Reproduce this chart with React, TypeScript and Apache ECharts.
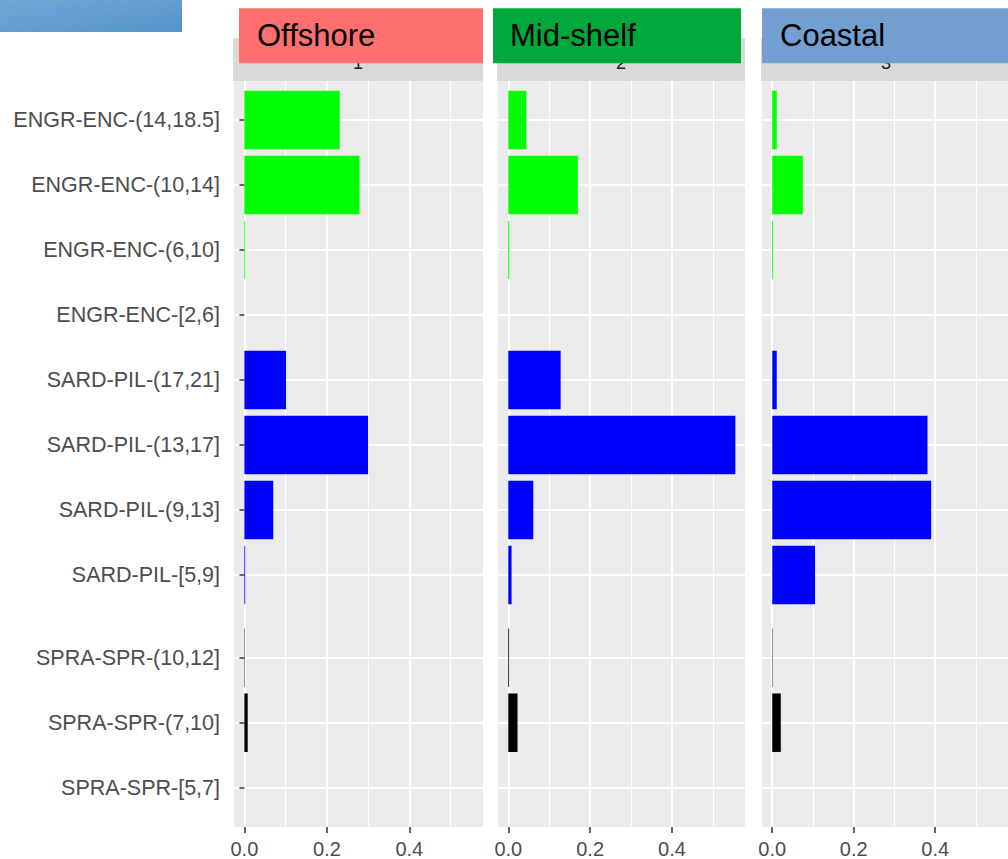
import { useEffect, useRef } from "react";
import * as echarts from "echarts";

// ---- data ----
const CATEGORIES = [
  "ENGR-ENC-(14,18.5]",
  "ENGR-ENC-(10,14]",
  "ENGR-ENC-(6,10]",
  "ENGR-ENC-[2,6]",
  "SARD-PIL-(17,21]",
  "SARD-PIL-(13,17]",
  "SARD-PIL-(9,13]",
  "SARD-PIL-[5,9]",
  "SPRA-SPR-(10,12]",
  "SPRA-SPR-(7,10]",
  "SPRA-SPR-[5,7]",
];
const OFFSHORE = [0.231, 0.279, 0.002, 0, 0.101, 0.3, 0.07, 0.002, 0.001, 0.008, 0];
const MID_SHELF = [0.044, 0.17, 0.0025, 0, 0.128, 0.555, 0.061, 0.008, 0.002, 0.0225, 0];
const COASTAL = [0.011, 0.075, 0.002, 0, 0.011, 0.381, 0.39, 0.105, 0.001, 0.021, 0];
const PANEL_TITLES = ["Offshore", "Mid-shelf", "Coastal"];
const STRIP_LABELS = ["1", "2", "3"];
const X_TICKS = [0, 0.2, 0.4];
const SPECIES = ["ENGR-ENC", "SARD-PIL", "SPRA-SPR"];
const LOWER_BLOCK_SPECIES = "SPRA-SPR";

// ---- styles / layout ----
const SPECIES_COLORS: Record<string, string> = {
  "ENGR-ENC": "#00FF00",
  "SARD-PIL": "#0000FF",
  "SPRA-SPR": "#000000",
};
const X_MIN = -0.0276;
const X_MAX = 0.5786;
const PANEL_LEFT = [233, 497, 761];
const PANEL_WIDTH = [250, 248, 250];
const HEADER_COLORS = ["#FF6F6F", "#00A83A", "#729FD0"];
const HEADER_X = [239, 493, 762];
const HEADER_W = [244, 248, 250];
const HEADER_TEXT_X = [257, 510, 780];
const FONT = "'Liberation Sans', Arial, Helvetica, sans-serif";

const PANEL_VALUES = [OFFSHORE, MID_SHELF, COASTAL];

function speciesOf(c: string): string {
  return SPECIES.find((s) => c.startsWith(s)) || "";
}

function buildOption() {
  const upperIdx = CATEGORIES.map((_, i) => i).filter(
    (i) => speciesOf(CATEGORIES[i]) !== LOWER_BLOCK_SPECIES
  );
  const lowerIdx = CATEGORIES.map((_, i) => i).filter(
    (i) => speciesOf(CATEGORIES[i]) === LOWER_BLOCK_SPECIES
  );

  const grid: any[] = [];
  const xAxis: any[] = [];
  const yAxis: any[] = [];
  const series: any[] = [];
  const graphic: any[] = [];

  graphic.push({
    type: "rect",
    shape: { x: 0, y: 0, width: 182, height: 32 },
    style: {
      fill: new echarts.graphic.LinearGradient(0, 0, 1, 1, [
        { offset: 0, color: "#6EA9D8" },
        { offset: 1, color: "#5592C8" },
      ]),
    },
    silent: true,
  });

  for (let p = 0; p < 3; p++) {
    const L = PANEL_LEFT[p];
    const W = PANEL_WIDTH[p];
    grid.push({ left: L, top: 81, width: W, height: 746, show: true, backgroundColor: "#EBEBEB", borderWidth: 0 });
    grid.push({ left: L, top: 120, width: W, height: 455, show: false });
    grid.push({ left: L, top: 657.7, width: W, height: 130, show: false });

    // minor vertical grid (0.1)
    xAxis.push({
      type: "value",
      gridIndex: 3 * p,
      position: "top",
      min: X_MIN,
      max: X_MAX,
      minInterval: 0.1,
      maxInterval: 0.1,
      axisLine: { show: false },
      axisTick: { show: false },
      axisLabel: { show: false },
      splitLine: { show: true, lineStyle: { color: "#FFFFFF", width: 1 } },
    });
    // major vertical grid (0.2) + labels
    xAxis.push({
      type: "value",
      gridIndex: 3 * p,
      position: "bottom",
      min: X_MIN,
      max: X_MAX,
      minInterval: 0.2,
      maxInterval: 0.2,
      axisLine: { show: false },
      axisTick: {
        show: true,
        length: 6,
        customValues: X_TICKS,
        lineStyle: { color: "#333333", width: 1.5 },
      },
      axisLabel: {
        show: true,
        customValues: X_TICKS,
        formatter: (v: number) => v.toFixed(1),
        color: "#4D4D4D",
        fontSize: 20,
        fontFamily: FONT,
        margin: 12,
      },
      splitLine: { show: true, lineStyle: { color: "#FFFFFF", width: 2 } },
    });
    xAxis.push({ type: "value", gridIndex: 3 * p + 1, min: X_MIN, max: X_MAX, show: false });
    xAxis.push({ type: "value", gridIndex: 3 * p + 2, min: X_MIN, max: X_MAX, show: false });

    yAxis.push({ type: "value", gridIndex: 3 * p, min: 0, max: 1, show: false });
    const catAxis = (idx: number[], gi: number) => ({
      type: "category",
      gridIndex: gi,
      data: idx.map((i) => CATEGORIES[i]),
      inverse: true,
      boundaryGap: false,
      axisLine: { show: false },
      axisTick: {
        show: p === 0,
        interval: 0,
        length: 5,
        lineStyle: { color: "#333333", width: 1.5 },
      },
      axisLabel: {
        show: p === 0,
        interval: 0,
        color: "#4D4D4D",
        fontSize: 21.5,
        fontFamily: FONT,
        margin: 13,
      },
      splitLine: { show: true, interval: 0, lineStyle: { color: "#FFFFFF", width: 2 } },
    });
    yAxis.push(catAxis(upperIdx, 3 * p + 1));
    yAxis.push(catAxis(lowerIdx, 3 * p + 2));

    const vals = PANEL_VALUES[p];
    const mk = (idx: number[]) =>
      idx.map((i) => ({
        value: vals[i],
        itemStyle: { color: SPECIES_COLORS[speciesOf(CATEGORIES[i])] },
      }));
    series.push({
      type: "bar",
      xAxisIndex: 4 * p + 2,
      yAxisIndex: 3 * p + 1,
      data: mk(upperIdx),
      barCategoryGap: "10%",
      clip: false,
      silent: true,
    });
    series.push({
      type: "bar",
      xAxisIndex: 4 * p + 3,
      yAxisIndex: 3 * p + 2,
      data: mk(lowerIdx),
      barCategoryGap: "10%",
      clip: false,
      silent: true,
    });

    // strip
    graphic.push({
      type: "rect",
      shape: { x: L, y: 38, width: W, height: 43 },
      style: { fill: "#D9D9D9" },
      silent: true,
    });
    graphic.push({
      type: "text",
      x: L + W / 2,
      y: 63,
      style: {
        text: STRIP_LABELS[p],
        fill: "#1A1A1A",
        fontSize: 18,
        fontFamily: FONT,
        align: "center",
        verticalAlign: "middle",
      },
      silent: true,
    });
  }

  for (let p = 0; p < 3; p++) {
    graphic.push({
      type: "rect",
      shape: { x: HEADER_X[p], y: 8.3, width: HEADER_W[p], height: 55 },
      style: { fill: HEADER_COLORS[p] },
      silent: true,
    });
    graphic.push({
      type: "text",
      x: HEADER_TEXT_X[p],
      y: 35.5,
      style: {
        text: PANEL_TITLES[p],
        fill: "#000000",
        fontSize: 31,
        fontFamily: FONT,
        align: "left",
        verticalAlign: "middle",
      },
      silent: true,
    });
  }

  return {
    animation: false,
    backgroundColor: "#FFFFFF",
    grid,
    xAxis,
    yAxis,
    series,
    graphic,
  };
}

export default function App() {
  const ref = useRef<HTMLDivElement>(null);
  useEffect(() => {
    document.body.style.margin = "0";
    if (!ref.current) return;
    const chart = echarts.init(ref.current, null, { renderer: "svg" });
    chart.setOption(buildOption() as any);
    return () => chart.dispose();
  }, []);
  return <div ref={ref} style={{ width: 1008, height: 859 }} />;
}
